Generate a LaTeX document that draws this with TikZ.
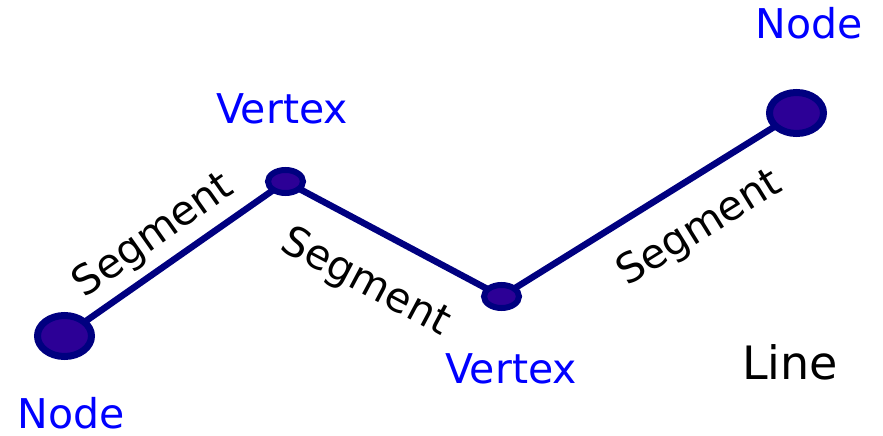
\documentclass[tikz,border=0pt]{standalone}
\usepackage{fontspec}
\setmainfont{DejaVu Sans}
\usetikzlibrary{shapes.geometric,backgrounds}
\definecolor{edgenavy}{RGB}{0,0,128}
\definecolor{nodefill}{RGB}{44,0,150}
\definecolor{lblue}{RGB}{0,0,255}
\begin{document}
\begin{tikzpicture}[x=1pt,y=-1pt,
  bignode/.style={ellipse, draw=edgenavy, fill=nodefill, line width=7pt,
    minimum width=54pt, minimum height=41pt, inner sep=0pt},
  vertexnode/.style={ellipse, draw=edgenavy, fill=nodefill, line width=6pt,
    minimum width=35pt, minimum height=23pt, inner sep=0pt},
  seg/.style={draw=edgenavy, line width=6.5pt},
  lbl/.style={text=lblue, anchor=base, inner sep=0pt, font=\fontsize{41}{45}\selectfont},
  seglbl/.style={inner sep=0pt, font=\fontsize{41}{45}\selectfont}]
  \useasboundingbox (0,0) rectangle (883,436);
  \node[bignode] (n1) at (64.5,336) {};
  \node[vertexnode] (v1) at (285.5,181.5) {};
  \node[vertexnode] (v2) at (501.5,296.5) {};
  \node[bignode] (n2) at (796.5,113) {};
  \begin{scope}[on background layer]
    \draw[seg] (n1.center) -- (v1.center) -- (v2.center) -- (n2.center);
  \end{scope}
  \node[lbl] (tn) at (809,38) {Node};
  \node[lbl] (bn) at (71,428) {Node};
  \node[lbl] (tv) at (282,123) {Vertex};
  \node[lbl] (bv) at (511,383) {Vertex};
  \node[anchor=base, inner sep=0pt, font=\fontsize{46}{50}\selectfont] (ln) at (790,379) {Line};
  \node[seglbl, rotate=35.2] (s1) at (154,236) {Segment};
  \node[seglbl, rotate=-28] (s2) at (365,283) {Segment};
  \node[seglbl, rotate=31.8] (s3) at (700,229) {Segment};
\end{tikzpicture}
\end{document}
